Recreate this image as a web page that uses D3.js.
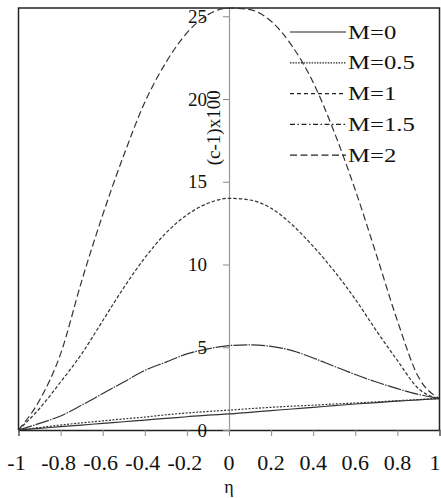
<!DOCTYPE html>
<html>
<head>
<meta charset="utf-8">
<script src="https://cdn.jsdelivr.net/npm/d3@7/dist/d3.min.js"></script>
<style>
  html, body { margin: 0; padding: 0; background: #fff; }
  svg { display: block; }
  text { font-family: "Liberation Serif", "Times New Roman", serif; fill: #111; }
</style>
</head>
<body>
<svg id="chart" width="441" height="498"></svg>
<script>
// ---- data ----
const eta = [-1, -0.9, -0.8, -0.7, -0.6, -0.5, -0.4, -0.3, -0.2, -0.1, 0, 0.1, 0.2, 0.3, 0.4, 0.5, 0.6, 0.7, 0.8, 0.9, 1];
const seriesNames = ["M=0", "M=0.5", "M=1", "M=1.5", "M=2"];
const valuesM0  = [0, 0.1, 0.2, 0.3, 0.4, 0.5, 0.6, 0.7, 0.8, 0.9, 0.97, 1.07, 1.17, 1.27, 1.37, 1.47, 1.57, 1.66, 1.74, 1.82, 1.9];
const valuesM05 = [0, 0.15, 0.3, 0.43, 0.55, 0.67, 0.78, 0.92, 1.03, 1.12, 1.2, 1.29, 1.37, 1.44, 1.5, 1.57, 1.63, 1.7, 1.77, 1.84, 1.9];
const valuesM1  = [0, 1.3, 2.9, 4.6, 6.6, 8.6, 10.4, 11.9, 13.0, 13.7, 14.0, 13.9, 13.4, 12.4, 11.1, 9.6, 7.9, 6.0, 4.2, 2.5, 1.9];
const valuesM15 = [0, 0.4, 0.85, 1.5, 2.2, 2.9, 3.6, 4.1, 4.6, 4.9, 5.1, 5.15, 5.05, 4.8, 4.35, 3.85, 3.35, 2.9, 2.5, 2.15, 1.9];
const valuesM2  = [0, 1.8, 4.6, 9.0, 13.0, 16.6, 19.8, 22.2, 24.0, 25.1, 25.5, 25.4, 24.7, 23.2, 21.0, 18.0, 14.5, 10.6, 6.6, 3.2, 1.9];
const xTicks = [-1, -0.8, -0.6, -0.4, -0.2, 0, 0.2, 0.4, 0.6, 0.8, 1];
const xTickLabels = ["-1", "-0.8", "-0.6", "-0.4", "-0.2", "0", "0.2", "0.4", "0.6", "0.8", "1"];
const yTicks = [0, 5, 10, 15, 20, 25];
const xTitle = "η";
const yTitle = "(c-1)x100";

// ---- styles ----
const allValues = [valuesM0, valuesM05, valuesM1, valuesM15, valuesM2];
const curveDash  = [null, "2,1.5", "3.5,2", "14,1.2,1.5,1.2", "7,3.5"];
const legendDash = [null, "1.5,1.2", "4,3", "5,2.5,1.5,2.5", "7,3.5"];

const svg = d3.select("#chart");
const pL = 18.5, pR = 439.5, pT = 8, pB = 430;
const x = d3.scaleLinear().domain([-1, 1]).range([pL, pR]);
const y = d3.scaleLinear().domain([0, 25.5]).range([pB, pT]);

// x axis (bottom)
const xAxis = d3.axisBottom(x).tickValues(xTicks).tickSize(6).tickFormat(() => "");
const gx = svg.append("g").attr("transform", `translate(0,${pB})`).call(xAxis);
gx.select(".domain").attr("stroke", "#222").attr("stroke-width", 1.3);
gx.selectAll(".tick line").attr("stroke", "#888");

// x tick labels
svg.append("g").selectAll("text").data(xTicks).join("text")
  .attr("x", (d, i) => Math.min(x(d) + (d < 0 ? -2 : 0), 435))
  .attr("y", 470)
  .attr("text-anchor", "middle")
  .attr("font-size", 20)
  .text((d, i) => xTickLabels[i])
  .each(function() {
    const w = this.getComputedTextLength();
    d3.select(this).attr("textLength", w * 1.1).attr("lengthAdjust", "spacingAndGlyphs");
  });

svg.append("text").attr("x", x(0)).attr("y", 493).attr("text-anchor", "middle")
  .attr("font-size", 18).attr("font-family", "DejaVu Sans").text(xTitle);

// y axis at eta = 0
const yAxis = d3.axisLeft(y).tickValues(yTicks).tickSize(6).tickFormat(() => "");
const gy = svg.append("g").attr("transform", `translate(${x(0)},0)`).call(yAxis);
gy.select(".domain").attr("stroke", "#999").attr("stroke-width", 1.2);
gy.selectAll(".tick line").attr("stroke", "#888");

svg.append("g").selectAll("text").data(yTicks).join("text")
  .attr("x", x(0) - 22)
  .attr("y", d => y(d))
  .attr("dy", "0.35em")
  .attr("text-anchor", "end")
  .attr("font-size", 19)
  .text(d => d);

svg.append("text")
  .attr("transform", `translate(${x(0) - 16},${y(15) - 54}) rotate(-90)`)
  .attr("text-anchor", "middle")
  .attr("dy", "0.35em")
  .attr("font-size", 19)
  .text(yTitle);

// frame (left, top, right)
svg.append("path")
  .attr("d", `M${pL},${pB}V${pT}H${pR}V${pB}`)
  .attr("fill", "none").attr("stroke", "#222").attr("stroke-width", 1.5);

// curves
const line = d3.line().x((d, i) => x(eta[i])).y(d => y(d)).curve(d3.curveMonotoneX);
svg.append("g").selectAll("path").data(allValues).join("path")
  .attr("d", d => line(d))
  .attr("fill", "none")
  .attr("stroke", "#333")
  .attr("stroke-width", 1.2)
  .attr("stroke-dasharray", (d, i) => curveDash[i]);

// legend
const lg = svg.append("g").selectAll("g").data(seriesNames).join("g")
  .attr("transform", (d, i) => `translate(0,${32 + i * 30.8})`);
lg.append("line").attr("x1", 290).attr("x2", 346).attr("y1", 0).attr("y2", 0)
  .attr("stroke", "#222").attr("stroke-width", 1.2)
  .attr("stroke-dasharray", (d, i) => legendDash[i]);
lg.append("text").attr("x", 348).attr("y", 0).attr("dy", "0.35em")
  .attr("font-size", 19).text(d => d)
  .each(function() {
    const w = this.getComputedTextLength();
    d3.select(this).attr("textLength", w * 1.3).attr("lengthAdjust", "spacingAndGlyphs");
  });
</script>
</body>
</html>
